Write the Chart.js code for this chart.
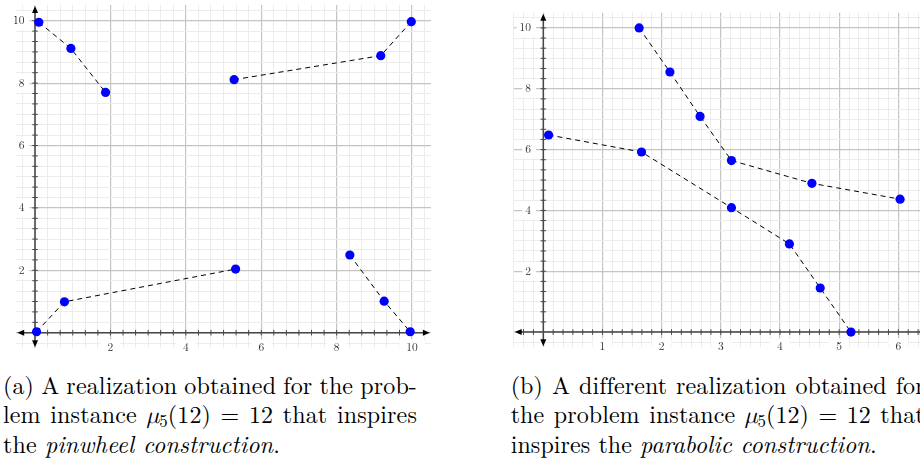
<!DOCTYPE html>
<html>
<head>
<meta charset="utf-8">
<script src="https://cdn.jsdelivr.net/npm/chart.js@4"></script>
<style>
  html, body { margin: 0; padding: 0; background: #fff; overflow: hidden; width: 920px; height: 460px; }
  #wrapA { position: absolute; left: 0; top: 0; width: 460px; height: 360px; }
  #wrapB { position: absolute; left: 460px; top: 0; width: 480px; height: 360px; }
  .cap { position: absolute; top: 0; font-family: 'Latin Modern Roman', 'Liberation Serif', serif; font-size: 24px;
         white-space: nowrap; color: #000; line-height: 29px; }
  .mu { font-family: 'Latin Modern Math', 'Liberation Serif', serif; font-style: italic; font-weight: normal; }
  .sub { font-size: 0.7em; vertical-align: -0.22em; }
</style>
</head>
<body>
<div id="wrapA"><canvas id="chartA" width="460" height="360"></canvas></div>
<div id="wrapB"><canvas id="chartB" width="480" height="360"></canvas></div>

<div class="cap" id="a1">(a) A realization obtained for the prob-</div>
<div class="cap" id="a2">lem instance <span class="mu">μ</span><span class="sub">5</span>(12) = 12 that inspires</div>
<div class="cap" id="a3">the <i>pinwheel construction</i>.</div>
<div class="cap" id="b1">(b) A different realization obtained for</div>
<div class="cap" id="b2">the problem instance <span class="mu">μ</span><span class="sub">5</span>(12) = 12 that</div>
<div class="cap" id="b3">inspires the <i>parabolic construction</i>.</div>

<script>
// ---------------- data ----------------
// (a) pinwheel realization: four dashed chains
const pinwheel1X = [0.10, 0.95, 1.87];
const pinwheel1Y = [9.95, 9.11, 7.70];
const pinwheel2X = [5.28, 9.17, 9.98];
const pinwheel2Y = [8.11, 8.88, 9.97];
const pinwheel3X = [0.04, 0.78, 5.32];
const pinwheel3Y = [0.03, 0.99, 2.04];
const pinwheel4X = [8.35, 9.26, 9.95];
const pinwheel4Y = [2.49, 1.01, 0.03];

// (b) parabolic realization: two dashed chains
const parabolic1X = [1.62, 2.14, 2.65, 3.18, 4.54, 6.03];
const parabolic1Y = [10.00, 8.55, 7.09, 5.64, 4.89, 4.37];
const parabolic2X = [0.09, 1.66, 3.18, 4.16, 4.68, 5.20];
const parabolic2Y = [6.48, 5.92, 4.09, 2.90, 1.45, 0.00];

// tick labels
const leftXTickLabels  = [2, 4, 6, 8, 10];
const leftYTickLabels  = [2, 4, 6, 8, 10];
const rightXTickLabels = [1, 2, 3, 4, 5, 6];
const rightYTickLabels = [2, 4, 6, 8, 10];

// ---------------- styling helpers ----------------
const GRID_MAJOR = '#c4c4c4';
const GRID_MINOR = '#ececec';
const AXIS_COLOR = '#474747';
const LABEL_FAMILY = "'Latin Modern Roman', 'Liberation Serif', serif";
const LABEL_SIZE = 11.5;
const LABEL_FONT = { family: LABEL_FAMILY, size: LABEL_SIZE };

function textWidth(str) {
  const c = document.createElement('canvas').getContext('2d');
  c.font = LABEL_SIZE + 'px ' + LABEL_FAMILY;
  return c.measureText(str).width;
}

function isOn(v, step) { const r = v / step; return Math.abs(r - Math.round(r)) < 1e-6; }
function hasLabel(labels, v) { return labels.some(l => Math.abs(l - v) < 1e-6); }

function axisOpts(cfg) {
  const { min, max, minorStep, majorStep, labels, isX, pad, backdrop, fitSize } = cfg;
  return {
    type: 'linear',
    position: isX ? 'bottom' : 'left',
    min, max,
    afterBuildTicks: (s) => {
      const t = [];
      const k0 = Math.ceil(min / minorStep - 1e-6), k1 = Math.floor(max / minorStep + 1e-6);
      for (let k = k0; k <= k1; k++) t.push({ value: k * minorStep });
      s.ticks = t;
    },
    afterFit: (s) => { if (isX) s.height = fitSize; else s.width = fitSize; },
    grid: {
      drawTicks: false,
      color: (c) => (c.tick && isOn(c.tick.value, majorStep)) ? GRID_MAJOR : GRID_MINOR,
      lineWidth: (c) => (c.tick && isOn(c.tick.value, majorStep)) ? 1.2 : 1
    },
    border: { display: false },
    ticks: {
      autoSkip: false, maxRotation: 0, minRotation: 0,
      mirror: true,                       // keeps labels from being clipped to the axis box
      crossAlign: isX ? 'near' : 'far',   // y labels right-aligned
      padding: pad, z: 1,
      color: '#333333', font: LABEL_FONT,
      callback: (v) => {
        const L = labels.find(l => Math.abs(l - v) < 1e-6);
        return L === undefined ? '' : String(L);
      },
      showLabelBackdrop: true,
      backdropColor: (c) => (c.tick && hasLabel(labels, c.tick.value)) ? '#ffffff' : 'rgba(0,0,0,0)',
      backdropPadding: backdrop
    }
  };
}

function series(xs, ys) {
  return {
    data: xs.map((x, i) => ({ x, y: ys[i] })),
    showLine: true,
    borderColor: '#000',
    borderWidth: 1,
    borderDash: [5, 4],
    pointRadius: 4.6,
    pointHoverRadius: 4.6,
    pointBackgroundColor: '#0000ff',
    pointBorderColor: '#0000ff',
    pointBorderWidth: 0,
    fill: false,
    tension: 0
  };
}

// axis lines through the origin, with arrowheads and small tick marks
const axesPlugin = {
  id: 'originAxes',
  beforeDatasetsDraw(chart) {
    const { ctx, chartArea: a, scales } = chart;
    const xs = scales.x, ys = scales.y;
    const x0 = xs.getPixelForValue(0), y0 = ys.getPixelForValue(0);
    ctx.save();
    ctx.strokeStyle = AXIS_COLOR;
    ctx.lineWidth = 1;
    ctx.beginPath();
    xs.ticks.forEach(t => {
      if (Math.abs(t.value) < 1e-9) return;
      const p = xs.getPixelForValue(t.value);
      if (p < a.left + 9 || p > a.right - 9) return;
      ctx.moveTo(p, y0 - 2.8); ctx.lineTo(p, y0 + 2.8);
    });
    ys.ticks.forEach(t => {
      if (Math.abs(t.value) < 1e-9) return;
      const p = ys.getPixelForValue(t.value);
      if (p < a.top + 9 || p > a.bottom - 9) return;
      ctx.moveTo(x0 - 2.8, p); ctx.lineTo(x0 + 2.8, p);
    });
    ctx.stroke();
    ctx.lineWidth = 1.5;
    ctx.beginPath();
    ctx.moveTo(a.left + 4, y0); ctx.lineTo(a.right - 4, y0);
    ctx.moveTo(x0, a.top + 4); ctx.lineTo(x0, a.bottom - 4);
    ctx.stroke();
    ctx.fillStyle = '#000';
    const L = 7, W = 3;
    const tri = (p1, p2, p3) => { ctx.beginPath(); ctx.moveTo(...p1); ctx.lineTo(...p2); ctx.lineTo(...p3); ctx.closePath(); ctx.fill(); };
    tri([a.left + 1, y0], [a.left + 1 + L, y0 - W], [a.left + 1 + L, y0 + W]);
    tri([a.right - 1, y0], [a.right - 1 - L, y0 - W], [a.right - 1 - L, y0 + W]);
    tri([x0, a.top + 1], [x0 - W, a.top + 1 + L], [x0 + W, a.top + 1 + L]);
    tri([x0, a.bottom - 1], [x0 - W, a.bottom - 1 - L], [x0 + W, a.bottom - 1 - L]);
    ctx.restore();
  }
};

function makeChart(id, datasets, xCfg, yCfg, padding) {
  return new Chart(document.getElementById(id), {
    type: 'scatter',
    data: { datasets },
    options: {
      responsive: false,
      animation: false,
      events: [],
      layout: { padding },
      plugins: { legend: { display: false }, tooltip: { enabled: false } },
      scales: { x: axisOpts(xCfg), y: axisOpts(yCfg) }
    },
    plugins: [axesPlugin]
  });
}

function build() {
  const widest = textWidth('10');
  const lineH = LABEL_SIZE * 1.2;
  const xPad = -(lineH / 2 - 1);   // x labels centred ~1px above the chart-area bottom

  // (a) left chart: chart area x 16.2..430.9, y 5.1..348.3
  makeChart('chartA',
    [series(pinwheel1X, pinwheel1Y), series(pinwheel2X, pinwheel2Y),
     series(pinwheel3X, pinwheel3Y), series(pinwheel4X, pinwheel4Y)],
    { min: -0.5, max: 10.5, minorStep: 1 / 3, majorStep: 2, labels: leftXTickLabels, isX: true,
      pad: xPad, backdrop: { left: 7, right: 7, top: 1, bottom: 1 }, fitSize: 11.7 },
    { min: -0.5, max: 10.5, minorStep: 1 / 3, majorStep: 2, labels: leftYTickLabels, isX: false,
      pad: 8.3 - widest, backdrop: { left: 3, right: 5, top: 2, bottom: 2 }, fitSize: 16.2 },
    { left: 0, top: 5.1, right: 29.1, bottom: 0 });

  // (b) right chart: chart area x 513.7..927.9 (page), y 5.1..348.3
  makeChart('chartB',
    [series(parabolic1X, parabolic1Y), series(parabolic2X, parabolic2Y)],
    { min: -0.5, max: 6.5, minorStep: 1 / 6, majorStep: 1, labels: rightXTickLabels, isX: true,
      pad: xPad, backdrop: { left: 7, right: 7, top: 1, bottom: 1 }, fitSize: 11.7 },
    { min: -0.5, max: 10.5, minorStep: 1 / 3, majorStep: 2, labels: rightYTickLabels, isX: false,
      pad: 17.3 - widest, backdrop: { left: 3, right: 5, top: 2, bottom: 2 }, fitSize: 53.7 },
    { left: 0, top: 5.1, right: 12.1, bottom: 0 });
}
build();

// ---------------- captions: justified like the typeset original ----------------
function layoutCaption(ids, left, lastWidth, fullWidth, baselines) {
  const els = ids.map(id => document.getElementById(id));
  els.forEach(e => { e.style.left = left + 'px'; e.style.letterSpacing = '0px'; e.style.wordSpacing = '0px'; });
  const last = els[els.length - 1];
  const ls = (lastWidth - last.getBoundingClientRect().width) / last.textContent.length;
  els.forEach(e => { e.style.letterSpacing = ls + 'px'; });
  for (let i = 0; i < els.length - 1; i++) {
    const e = els[i];
    const w = e.getBoundingClientRect().width;
    const n = (e.textContent.match(/ /g) || []).length;
    e.style.wordSpacing = ((fullWidth - w) / n) + 'px';
  }
  els.forEach((e, i) => {
    let m = e.querySelector('.bl');
    if (!m) {
      m = document.createElement('span');
      m.className = 'bl';
      m.style.cssText = 'display:inline-block;width:0;height:0;';
      e.appendChild(m);
    }
    e.style.top = (baselines[i] - m.offsetTop) + 'px';
  });
}
function layoutAll() {
  layoutCaption(['a1', 'a2', 'a3'], 3, 277, 414, [394, 423.3, 452.7]);
  layoutCaption(['b1', 'b2', 'b3'], 510.7, 366, 414, [394, 423.3, 452.7]);
}
layoutAll();
if (document.fonts && document.fonts.ready) document.fonts.ready.then(layoutAll);
</script>
</body>
</html>
